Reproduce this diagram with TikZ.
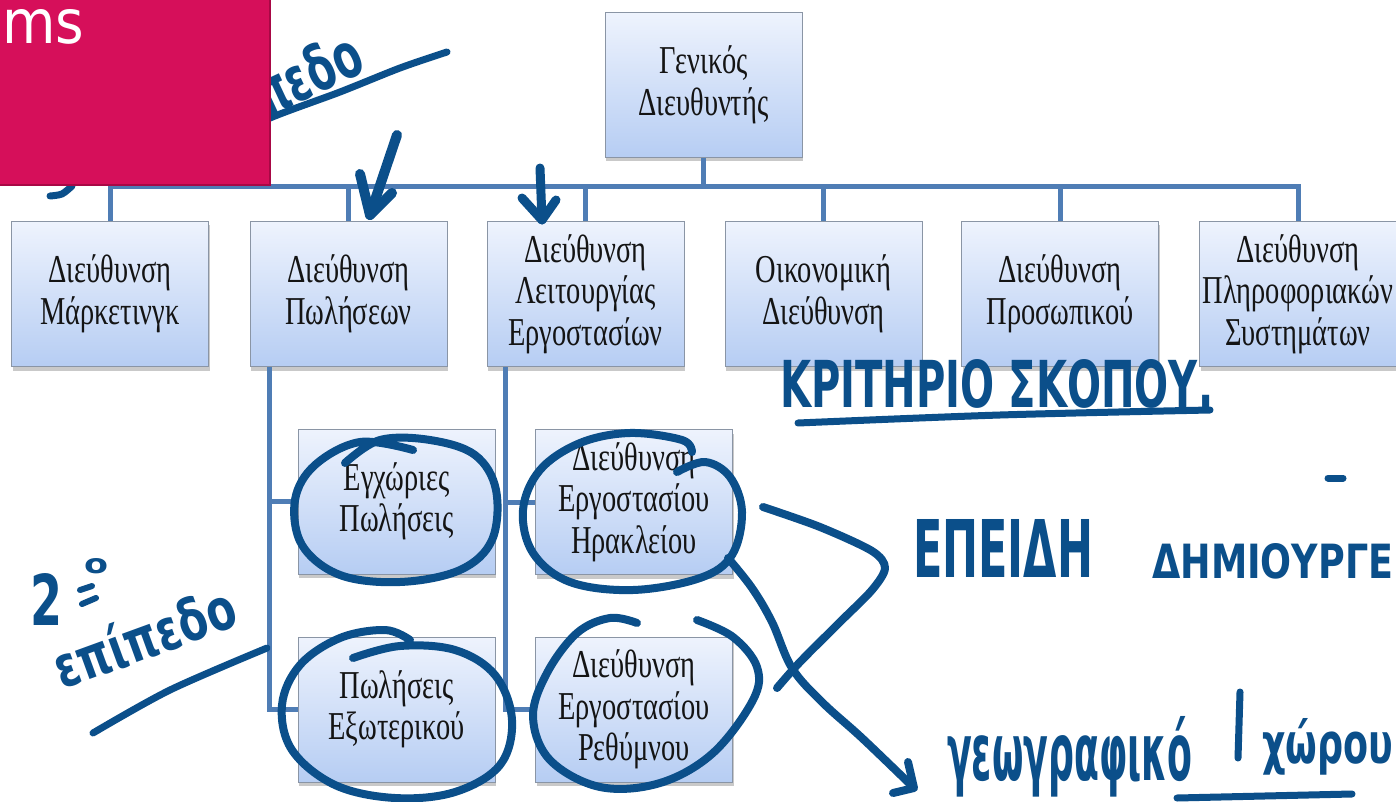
\documentclass[tikz,border=0pt]{standalone}
\usepackage{fontspec}
\usepackage{graphicx}
\setmainfont{Liberation Serif}
\newfontfamily\boxfont[FakeStretch=0.72]{Liberation Serif}
\newfontfamily\handfont{DejaVu Sans}
\usetikzlibrary{shadows}
\definecolor{handc}{HTML}{0B4F8A}
\definecolor{conncol}{HTML}{4F7DB5}
\definecolor{boxtop}{HTML}{EEF3FD}
\definecolor{boxbot}{HTML}{B6CDF3}
\definecolor{boxedge}{HTML}{8A95A5}
\definecolor{pinkbox}{HTML}{D60F5A}
\definecolor{pinkedge}{HTML}{A80845}
\newcommand{\hwtext}[3]{\resizebox{#1}{#2}{\handfont\bfseries #3}}
\begin{document}
\begin{tikzpicture}[x=1pt,y=-1pt,
  orgbox/.style={draw=boxedge, line width=1pt, top color=boxtop, bottom color=boxbot,
    minimum width=197pt, minimum height=145pt, align=center, inner sep=0pt,
    font=\boxfont\fontsize{39.5}{41.5}\selectfont, text=black!92,
    drop shadow={shadow xshift=1pt, shadow yshift=-4pt, opacity=0.35, fill=black!60}},
  conn/.style={draw=conncol, line width=5pt},
  handline/.style={draw=handc, line width=8pt, line cap=round, line join=round},
  hwnode/.style={inner sep=0pt, text=handc},
  notebox/.style={fill=pinkbox, draw=pinkedge, line width=2pt}]
\useasboundingbox (0,0) rectangle (1396,802);
\fill[white] (0,0) rectangle (1396,802);

% ---- org chart boxes
\node[orgbox] (gd) at (703.5,85) {Γενικός\\Διευθυντής};
\node[orgbox] (m1) at (110,294) {Διεύθυνση\\Μάρκετινγκ};
\node[orgbox] (m2) at (348.5,294) {Διεύθυνση\\Πωλήσεων};
\node[orgbox] (m3) at (585.5,294) {Διεύθυνση\\Λειτουργίας\\Εργοστασίων};
\node[orgbox] (m4) at (823.5,294) {Οικονομική\\Διεύθυνση};
\node[orgbox] (m5) at (1060,294) {Διεύθυνση\\Προσωπικού};
\node[orgbox] (m6) at (1298,294) {Διεύθυνση\\Πληροφοριακών\\Συστημάτων};
\node[orgbox] (s1) at (396.5,501.5) {Εγχώριες\\Πωλήσεις};
\node[orgbox] (s2) at (396.5,709.5) {Πωλήσεις\\Εξωτερικού};
\node[orgbox] (r1) at (634,502) {Διεύθυνση\\Εργοστασίου\\Ηρακλείου};
\node[orgbox] (r2) at (634,709.5) {Διεύθυνση\\Εργοστασίου\\Ρεθύμνου};

% ---- connectors
\coordinate (bus) at (0,187);
\draw[conn] (gd.south) -- (gd.south |- bus);
\draw[conn] (m1.north) -- (m1.north |- bus) -- (m6.north |- bus) -- (m6.north);
\foreach \n in {m2,m3,m4,m5} \draw[conn] (\n.north) -- (\n.north |- bus);
\draw[conn] ([xshift=20pt]m2.south west) |- (s1.west);
\draw[conn] ([xshift=20pt]m2.south west) |- (s2.west);
\draw[conn] ([xshift=19pt]m3.south west) |- (r1.west);
\draw[conn] ([xshift=19pt]m3.south west) |- (r2.west);

% ---- handwritten annotations
% first level (the visible end of the word)
\node[hwnode, rotate=25, anchor=base west] (lvl1) at (266,118) {\hwtext{112pt}{48pt}{πεδο}};
\draw[handline, line width=7pt] plot[smooth] coordinates {(200,150) (270,118) (340,92) (400,68) (447,52)};
\draw[handline, line width=7pt] plot[smooth] coordinates {(50,196) (62,194) (72,186)};

% arrows at the top
\draw[handline, line width=10pt] (397,135) -- (370,215);
\draw[handline, line width=10pt] (360,174) -- (370,215) -- (392,193);
\draw[handline, line width=9pt] (540,168) -- (542,220);
\draw[handline, line width=9pt] (522,198) -- (542,220) -- (556,200);

% circles round the second-level boxes
\draw[handline] plot[smooth, tension=0.6] coordinates {(345,463) (380,440) (430,440) (475,455) (496,490) (492,540) (460,570) (400,582) (340,575) (302,545) (295,500) (315,465) (360,442) (413,450)};
\draw[handline] plot[smooth, tension=0.6] coordinates {(353,658) (400,646) (455,650) (495,675) (512,720) (500,765) (455,792) (395,798) (335,785) (292,750) (282,705) (300,665) (340,638) (385,630) (410,640)};
\draw[handline] plot[smooth, tension=0.6] coordinates {(677,472) (705,462) (730,477) (742,512) (732,555) (700,578) (633,590) (570,582) (533,553) (523,510) (540,470) (580,443) (630,433) (682,440) (692,452)};
\draw[handline] plot[smooth, tension=0.6] coordinates {(637,623) (610,618) (577,633) (547,673) (533,717) (550,760) (600,787) (660,783) (713,753) (753,700) (757,667) (733,637) (697,620)};

% bracket and crossing arrow
\draw[handline] plot[smooth, tension=0.5] coordinates {(763,507) (820,527) (872,551) (885,568) (872,590) (840,622) (800,662) (777,688)};
\draw[handline] plot[smooth, tension=0.6] coordinates {(728,558) (752,588) (772,622) (792,668) (822,702) (862,738) (912,786)};
\draw[handline] (908,762) -- (914,788) -- (893,793);

% texts
\node[hwnode, anchor=base west] (crit) at (780,407) {\hwtext{433pt}{48pt}{ΚΡΙΤΗΡΙΟ ΣΚΟΠΟΥ.}};
\draw[handline, line width=7pt] plot[smooth] coordinates {(798,423) (1000,415) (1210,410)};
\draw[handline, line width=7pt] (1328,478) -- (1343,478);
\node[hwnode, anchor=base west] (epeidi) at (913,577) {\hwtext{180pt}{58pt}{ΕΠΕΙΔΗ}};
\node[hwnode, anchor=base west] (dimiourg) at (1152,578) {\hwtext{241pt}{35pt}{ΔΗΜΙΟΥΡΓΕ}};
\node[hwnode, anchor=base west] (geo) at (947,780) {\hwtext{245pt}{64pt}{γεωγραφικό}};
\draw[handline, line width=7pt] (1240,692) -- (1238,758);
\node[hwnode, anchor=base west] (xorou) at (1262,763) {\hwtext{131pt}{45pt}{χώρου}};
\draw[handline, line width=7pt] (1177,798) -- (1352,794);

% second level
\node[hwnode, anchor=base west] (two) at (30,625) {\hwtext{32pt}{52pt}{2}};
\node[hwnode, anchor=base west] (twoo) at (84,573) {\hwtext{24pt}{15pt}{ο}};
\draw[handline, line width=6pt] (80,590) -- (92,586);
\draw[handline, line width=6pt] (82,604) -- (96,598);
\node[hwnode, rotate=20, anchor=base west] (lvl2) at (62,690) {\hwtext{190pt}{46pt}{επίπεδο}};
\draw[handline, line width=7pt] plot[smooth] coordinates {(93,733) (170,690) (267,648)};

% pink note on top
\path[notebox] (-3,-3) rectangle (270,185);
\node[inner sep=0pt, anchor=base west, text=white] (ms) at (2,44) {\resizebox{82pt}{34pt}{\handfont ms}};
\end{tikzpicture}
\end{document}
